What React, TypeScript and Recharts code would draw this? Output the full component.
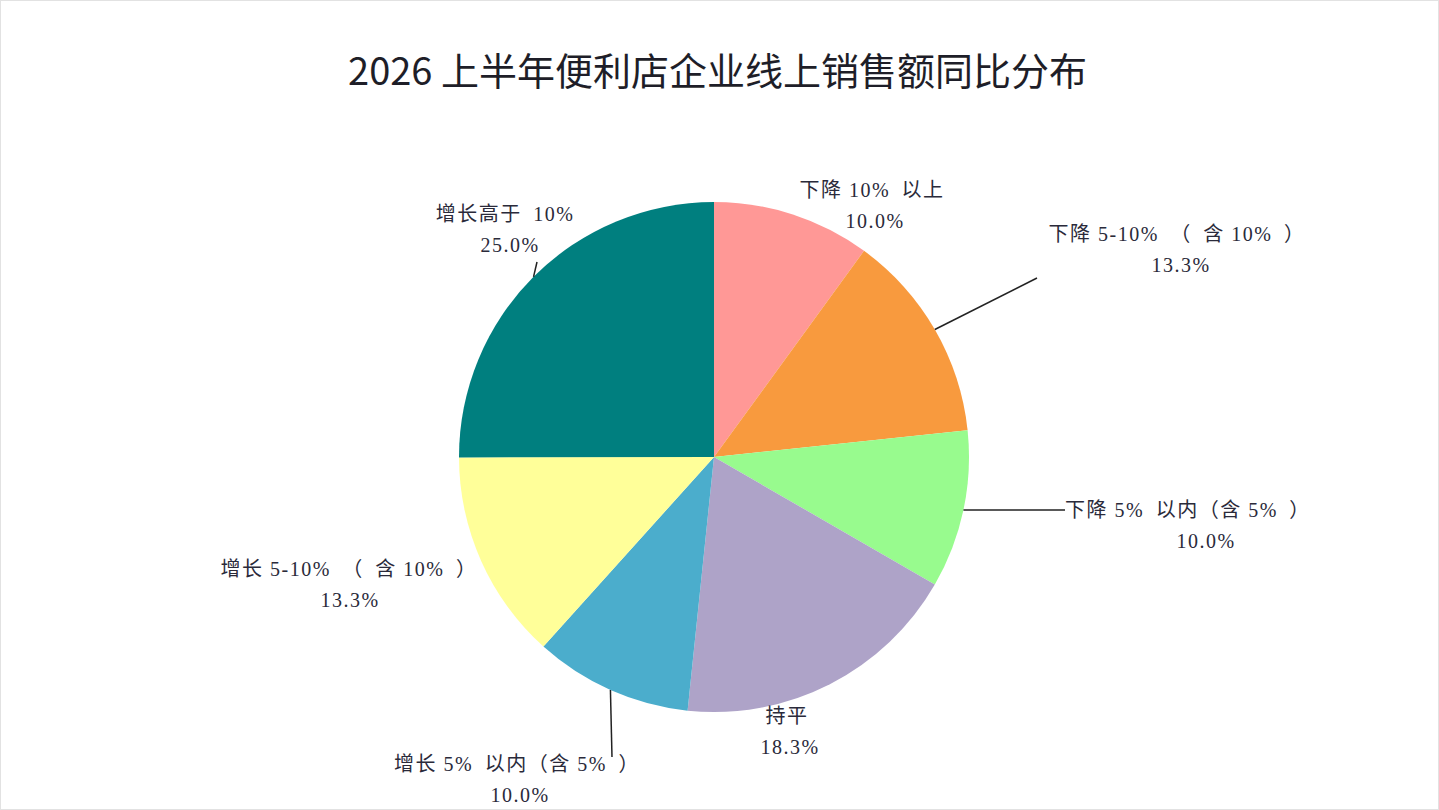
import { PieChart, Pie, Cell } from 'recharts';

const categories = [
  '下降 10%\u2002以上',
  '下降 5-10%\u2002（\u2002含 10%\u2002）',
  '下降 5%\u2002以内（含 5%\u2002）',
  '持平',
  '增长 5%\u2002以内（含 5%\u2002）',
  '增长 5-10%\u2002（\u2002含 10%\u2002）',
  '增长高于\u200210%',
];
const shares = [10.0, 13.3, 10.0, 18.3, 10.0, 13.3, 25.0];
const colors = ['#FF9896', '#F89A3E', '#98FB8E', '#AEA3C8', '#4BADCC', '#FFFF99', '#007F7F'];

// label placement relative to pie centre (line 1), and optional leader line end
const labelPos = [
  { dx: 158, dy: -267, pdx: 3, anchor: 'middle' },
  { dx: 463, dy: -223, pdx: 4, anchor: 'middle' },
  { dx: 351, dy: 53, pdx: 141, anchor: 'start' },
  { dx: 73, dy: 259, pdx: 3, anchor: 'middle' },
  { dx: -197, dy: 307, pdx: 3, anchor: 'middle' },
  { dx: -365, dy: 112, pdx: 1, anchor: 'middle' },
  { dx: -209, dy: -243, pdx: 5, anchor: 'middle' },
];
const leaderEnd: ({ dx: number; dy: number } | null)[] = [
  null,
  { dx: 323, dy: -179 },
  { dx: 351, dy: 53 },
  null,
  { dx: -102, dy: 300 },
  null,
  { dx: -177, dy: -195 },
];

const data = categories.map((name, i) => ({ name, value: shares[i] }));

const RAD = Math.PI / 180;
const textFont = '"Liberation Serif", "Noto Sans CJK SC", serif';

const renderLabel = (props: any) => {
  const { cx, cy, midAngle, outerRadius, index, value, name } = props;
  const pos = labelPos[index];
  const end = leaderEnd[index];
  const ex = cx + outerRadius * Math.cos(-midAngle * RAD);
  const ey = cy + outerRadius * Math.sin(-midAngle * RAD);
  const lx = cx + pos.dx;
  const ly = cy + pos.dy;
  return (
    <g key={`lbl-${index}`}>
      {end && (
        <line x1={ex} y1={ey} x2={cx + end.dx} y2={cy + end.dy} stroke="#222" strokeWidth={1.5} />
      )}
      <text
        x={lx}
        y={ly}
        textAnchor={pos.anchor}
        dominantBaseline="central"
        fill="#2a2a3a"
        fontSize={20}
        letterSpacing={1.5}
        fontFamily={textFont}
      >
        {name}
      </text>
      <text
        x={lx + pos.pdx}
        y={ly + 31}
        textAnchor="middle"
        dominantBaseline="central"
        fill="#2a2a3a"
        fontSize={20}
        letterSpacing={1.5}
        fontFamily={textFont}
      >
        {`${Number(value).toFixed(1)}%`}
      </text>
    </g>
  );
};

export default function App() {
  return (
    <div
      style={{
        position: 'fixed',
        left: 0,
        top: 0,
        width: 1439,
        height: 810,
        background: '#fff',
        boxSizing: 'border-box',
        border: '1px solid #e2e2e2',
      }}
    >
      <div
        style={{
          position: 'absolute',
          top: 43,
          width: '100%',
          textAlign: 'center',
          fontFamily: '"Noto Sans CJK SC", sans-serif',
          fontSize: 38,
          color: '#1e1e28',
          lineHeight: '50px',
          left: -2,
        }}
      >
        2026 上半年便利店企业线上销售额同比分布
      </div>
      <PieChart
        width={1437}
        height={808}
        margin={{ top: 0, right: 0, bottom: 0, left: 0 }}
        style={{ position: 'absolute', left: 0, top: 0 }}
      >
        <Pie
          data={data}
          dataKey="value"
          nameKey="name"
          cx={713}
          cy={456}
          outerRadius={255}
          startAngle={90}
          endAngle={-270}
          stroke="none"
          label={renderLabel}
          labelLine={false}
          isAnimationActive={false}
        >
          {data.map((d, i) => (
            <Cell key={d.name} fill={colors[i]} />
          ))}
        </Pie>
      </PieChart>
    </div>
  );
}
